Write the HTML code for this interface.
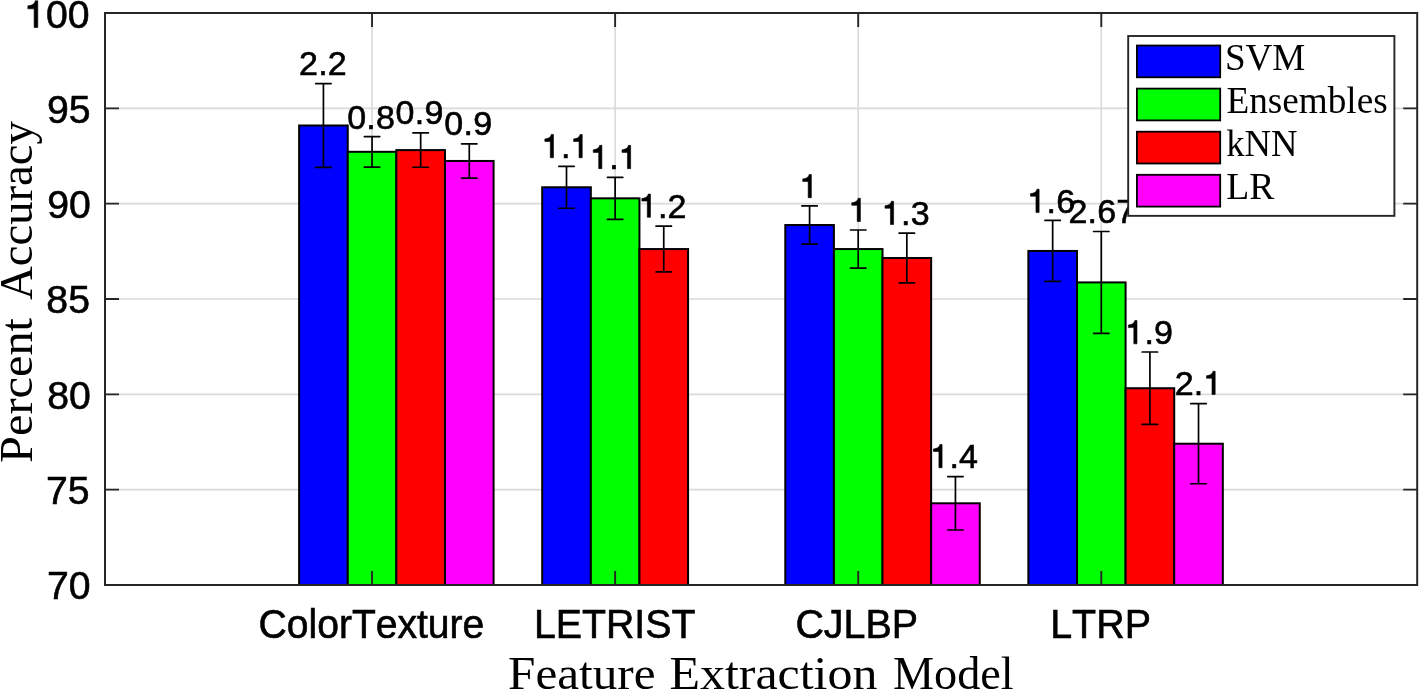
<!DOCTYPE html><html><head><meta charset="utf-8"><style>html,body{margin:0;padding:0;background:#fff;width:1419px;height:689px;overflow:hidden}svg{display:block;will-change:transform}text{font-kerning:none}</style></head><body>
<svg width="1419" height="689" viewBox="0 0 1419 689">
<rect x="0" y="0" width="1419" height="689" fill="#fff"/>
<path d="M105.0 489.67H1417.2M105.0 394.33H1417.2M105.0 299.00H1417.2M105.0 203.67H1417.2M105.0 108.33H1417.2M372.05 13.0V585.0M615.13 13.0V585.0M858.21 13.0V585.0M1101.29 13.0V585.0" stroke="#dadada" stroke-width="1.6" fill="none"/>
<rect x="299.13" y="125.49" width="48.62" height="459.51" fill="#0000ff" stroke="#000" stroke-width="2"/>
<rect x="347.74" y="151.81" width="48.62" height="433.19" fill="#00ff00" stroke="#000" stroke-width="2"/>
<rect x="396.36" y="150.09" width="48.62" height="434.91" fill="#ff0000" stroke="#000" stroke-width="2"/>
<rect x="444.97" y="160.96" width="48.62" height="424.04" fill="#ff00ff" stroke="#000" stroke-width="2"/>
<rect x="542.21" y="187.27" width="48.62" height="397.73" fill="#0000ff" stroke="#000" stroke-width="2"/>
<rect x="590.82" y="198.33" width="48.62" height="386.67" fill="#00ff00" stroke="#000" stroke-width="2"/>
<rect x="639.44" y="249.05" width="48.62" height="335.95" fill="#ff0000" stroke="#000" stroke-width="2"/>
<rect x="785.29" y="225.02" width="48.62" height="359.98" fill="#0000ff" stroke="#000" stroke-width="2"/>
<rect x="833.90" y="249.05" width="48.62" height="335.95" fill="#00ff00" stroke="#000" stroke-width="2"/>
<rect x="882.52" y="258.01" width="48.62" height="326.99" fill="#ff0000" stroke="#000" stroke-width="2"/>
<rect x="931.13" y="503.30" width="48.62" height="81.70" fill="#ff00ff" stroke="#000" stroke-width="2"/>
<rect x="1028.37" y="250.95" width="48.62" height="334.05" fill="#0000ff" stroke="#000" stroke-width="2"/>
<rect x="1076.98" y="282.41" width="48.62" height="302.59" fill="#00ff00" stroke="#000" stroke-width="2"/>
<rect x="1125.60" y="388.23" width="48.62" height="196.77" fill="#ff0000" stroke="#000" stroke-width="2"/>
<rect x="1174.21" y="443.72" width="48.62" height="141.28" fill="#ff00ff" stroke="#000" stroke-width="2"/>
<path d="M105.0 489.67h14M1417.2 489.67h-14M105.0 394.33h14M1417.2 394.33h-14M105.0 299.00h14M1417.2 299.00h-14M105.0 203.67h14M1417.2 203.67h-14M105.0 108.33h14M1417.2 108.33h-14M372.05 585.0v-14M372.05 13.0v14M615.13 585.0v-14M615.13 13.0v14M858.21 585.0v-14M858.21 13.0v14M1101.29 585.0v-14M1101.29 13.0v14" stroke="#262626" stroke-width="1.9" fill="none"/>
<rect x="105.0" y="13.0" width="1312.20" height="572.00" fill="none" stroke="#262626" stroke-width="2"/>
<path d="M323.43 83.55V167.44M315.73 83.55H331.13M315.73 167.44H331.13M372.05 136.55V167.06M364.35 136.55H379.75M364.35 167.06H379.75M420.67 132.93V167.25M412.97 132.93H428.37M412.97 167.25H428.37M469.28 143.80V178.12M461.58 143.80H476.98M461.58 178.12H476.98M566.51 166.30V208.24M558.81 166.30H574.21M558.81 208.24H574.21M615.13 177.35V219.30M607.43 177.35H622.83M607.43 219.30H622.83M663.75 226.17V271.93M656.05 226.17H671.45M656.05 271.93H671.45M809.59 205.95V244.09M801.89 205.95H817.29M801.89 244.09H817.29M858.21 229.98V268.11M850.51 229.98H865.91M850.51 268.11H865.91M906.83 233.22V282.79M899.13 233.22H914.53M899.13 282.79H914.53M955.44 476.61V529.99M947.74 476.61H963.14M947.74 529.99H963.14M1052.67 220.45V281.46M1044.97 220.45H1060.37M1044.97 281.46H1060.37M1101.29 231.50V333.32M1093.59 231.50H1108.99M1093.59 333.32H1108.99M1149.91 352.01V424.46M1142.21 352.01H1157.61M1142.21 424.46H1157.61M1198.52 403.68V483.76M1190.82 403.68H1206.22M1190.82 483.76H1206.22" stroke="#000" stroke-width="1.7" stroke-linecap="round" fill="none"/>
<g font-family="Liberation Sans" fill="#000" stroke="#000" stroke-width="0.6">
<text x="298.97 318.15 327.74" y="75.00" font-size="34">2.2</text>
<text x="347.16 366.34 375.93" y="128.50" font-size="34">0.8</text>
<text x="395.61 414.79 424.38" y="123.50" font-size="34">0.9</text>
<text x="444.36 463.54 473.13" y="134.90" font-size="34">0.9</text>
<path transform="translate(541.73,158.00) scale(0.03400,-0.03400)" d="M252 8H345V692H280C270 632 222 572 92 562V486H252Z" stroke-width="17.65"/><path transform="translate(570.50,158.00) scale(0.03400,-0.03400)" d="M252 8H345V692H280C270 632 222 572 92 562V486H252Z" stroke-width="17.65"/><text x="560.91" y="158.00" font-size="34">.</text>
<path transform="translate(590.13,168.90) scale(0.03400,-0.03400)" d="M252 8H345V692H280C270 632 222 572 92 562V486H252Z" stroke-width="17.65"/><path transform="translate(618.90,168.90) scale(0.03400,-0.03400)" d="M252 8H345V692H280C270 632 222 572 92 562V486H252Z" stroke-width="17.65"/><text x="609.31" y="168.90" font-size="34">.</text>
<path transform="translate(638.73,217.60) scale(0.03400,-0.03400)" d="M252 8H345V692H280C270 632 222 572 92 562V486H252Z" stroke-width="17.65"/><text x="657.91 667.50" y="217.60" font-size="34">.2</text>
<path transform="translate(799.62,198.00) scale(0.03400,-0.03400)" d="M252 8H345V692H280C270 632 222 572 92 562V486H252Z" stroke-width="17.65"/>
<path transform="translate(848.66,221.80) scale(0.03400,-0.03400)" d="M252 8H345V692H280C270 632 222 572 92 562V486H252Z" stroke-width="17.65"/>
<path transform="translate(881.87,224.80) scale(0.03400,-0.03400)" d="M252 8H345V692H280C270 632 222 572 92 562V486H252Z" stroke-width="17.65"/><text x="901.05 910.64" y="224.80" font-size="34">.3</text>
<path transform="translate(930.35,468.00) scale(0.03400,-0.03400)" d="M252 8H345V692H280C270 632 222 572 92 562V486H252Z" stroke-width="17.65"/><text x="949.53 959.12" y="468.00" font-size="34">.4</text>
<path transform="translate(1027.39,212.70) scale(0.03400,-0.03400)" d="M252 8H345V692H280C270 632 222 572 92 562V486H252Z" stroke-width="17.65"/><text x="1046.57 1056.16" y="212.70" font-size="34">.6</text>
<text x="1068.40 1087.59 1097.18 1116.36" y="222.70" font-size="34">2.67</text>
<path transform="translate(1125.25,344.10) scale(0.03400,-0.03400)" d="M252 8H345V692H280C270 632 222 572 92 562V486H252Z" stroke-width="17.65"/><text x="1144.44 1154.03" y="344.10" font-size="34">.9</text>
<path transform="translate(1203.45,394.80) scale(0.03400,-0.03400)" d="M252 8H345V692H280C270 632 222 572 92 562V486H252Z" stroke-width="17.65"/><text x="1174.67 1193.85" y="394.80" font-size="34">2.</text>
<path transform="translate(24.26,27.90) scale(0.03920,-0.03920)" d="M252 8H345V692H280C270 632 222 572 92 562V486H252Z" stroke-width="15.31"/><text x="46.06 67.85" y="27.90" font-size="39.2">00</text>
<text x="46.96 68.75" y="123.10" font-size="39.2">95</text>
<text x="47.16 68.95" y="218.10" font-size="39.2">90</text>
<text x="46.36 68.15" y="313.20" font-size="39.2">85</text>
<text x="47.16 68.95" y="409.20" font-size="39.2">80</text>
<text x="45.96 67.75" y="503.90" font-size="39.2">75</text>
<text x="47.06 68.85" y="599.20" font-size="39.2">70</text>
</g>
<text x="258.60" y="638.00" font-family="Liberation Sans" font-size="40" textLength="225.73" lengthAdjust="spacingAndGlyphs" stroke="#000" stroke-width="0.6">ColorTexture</text>
<text x="533.90" y="638.00" font-family="Liberation Sans" font-size="40" textLength="161.62" lengthAdjust="spacingAndGlyphs" stroke="#000" stroke-width="0.6">LETRIST</text>
<text x="795.40" y="638.00" font-family="Liberation Sans" font-size="40" textLength="122.65" lengthAdjust="spacingAndGlyphs" stroke="#000" stroke-width="0.6">CJLBP</text>
<text x="1050.20" y="638.00" font-family="Liberation Sans" font-size="40" textLength="100.77" lengthAdjust="spacingAndGlyphs" stroke="#000" stroke-width="0.6">LTRP</text>
<text x="508.10" y="689.00" font-family="Liberation Serif" font-size="45.5" textLength="147.43" lengthAdjust="spacingAndGlyphs">Feature</text>
<text x="669.50" y="689.00" font-family="Liberation Serif" font-size="45.5" textLength="207.86" lengthAdjust="spacingAndGlyphs">Extraction</text>
<text x="893.00" y="689.00" font-family="Liberation Serif" font-size="45.5" textLength="120.62" lengthAdjust="spacingAndGlyphs">Model</text>
<text transform="translate(31.60,462.90) rotate(-90)" x="0" y="0" font-family="Liberation Serif" font-size="45.5" textLength="144.93" lengthAdjust="spacingAndGlyphs">Percent</text>
<text transform="translate(31.60,300.00) rotate(-90)" x="0" y="0" font-family="Liberation Serif" font-size="45.5" textLength="178.90" lengthAdjust="spacingAndGlyphs">Accuracy</text>
<rect x="1128.2" y="36.0" width="266.20" height="179.85" fill="#fff" stroke="#262626" stroke-width="1.9"/>
<rect x="1136.9" y="45.50" width="83.3" height="31.8" fill="#0000ff" stroke="#000" stroke-width="1.8"/>
<rect x="1136.9" y="88.60" width="83.3" height="31.8" fill="#00ff00" stroke="#000" stroke-width="1.8"/>
<rect x="1136.9" y="131.70" width="83.3" height="31.8" fill="#ff0000" stroke="#000" stroke-width="1.8"/>
<rect x="1136.9" y="174.80" width="83.3" height="31.8" fill="#ff00ff" stroke="#000" stroke-width="1.8"/>
<text x="1224.90" y="69.90" font-family="Liberation Serif" font-size="37" textLength="80.41" lengthAdjust="spacingAndGlyphs">SVM</text>
<text x="1226.40" y="113.00" font-family="Liberation Serif" font-size="37" textLength="161.33" lengthAdjust="spacingAndGlyphs">Ensembles</text>
<text x="1226.20" y="156.10" font-family="Liberation Serif" font-size="37" textLength="71.34" lengthAdjust="spacingAndGlyphs">kNN</text>
<text x="1226.20" y="199.20" font-family="Liberation Serif" font-size="37" textLength="48.11" lengthAdjust="spacingAndGlyphs">LR</text>
</svg></body></html>
